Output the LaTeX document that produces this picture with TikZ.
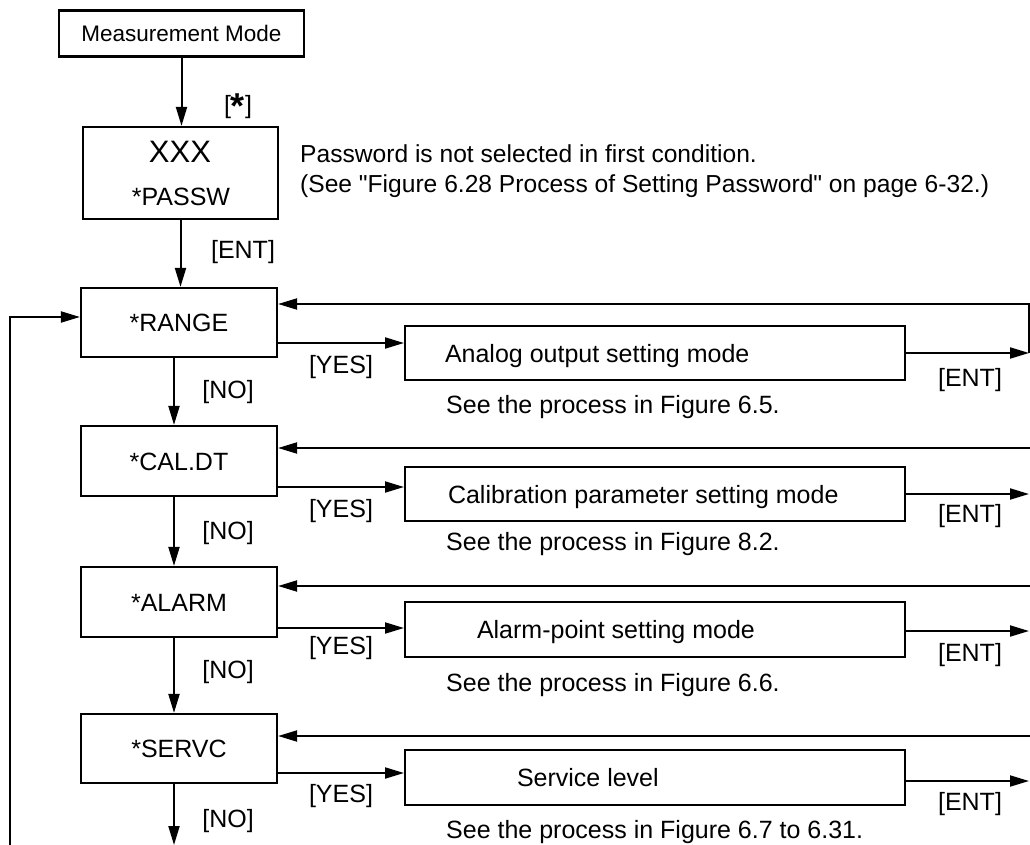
\documentclass[tikz,border=0pt]{standalone}
\usepackage{fontspec}
\setmainfont{Liberation Sans}
\usetikzlibrary{arrows.meta,calc}
\newcommand\rtxt[2]{\makebox[500pt][l]{\hspace{#1pt}#2}}
\begin{document}
\begin{tikzpicture}[x=1pt,y=-1pt,
 every node/.style={font=\fontsize{25}{29}\selectfont},
 lbox/.style={draw,line width=2.2pt,minimum width=196pt,minimum height=70pt,inner sep=0pt,text height=18pt,text depth=0pt},
 rbox/.style={draw,line width=2pt,minimum width=500pt,minimum height=54pt,inner sep=0pt,text height=18pt,text depth=0pt},
 arr/.style={line width=2pt,-{Triangle[length=19pt,width=11pt]}},
 lbl/.style={anchor=base,inner sep=0pt},
 note/.style={anchor=base west,inner sep=0pt}]
\useasboundingbox (0,0) rectangle (1030,845);

% left column boxes
\node[lbox,minimum width=245pt,minimum height=46pt,font=\fontsize{22.5}{26}\selectfont,text height=16pt] (mm) at (181.5,33.5) {Measurement Mode};
\node[lbox,minimum width=195pt,minimum height=92pt] (passw) at (180.5,173) {};
\node[lbl,font=\fontsize{31}{34}\selectfont] (xxx) at (180,163) {XXX};
\node[lbl] (pw) at (181,206) {*PASSW};
\node[lbox,minimum height=69pt] (range) at (179,322.5) {*RANGE};
\node[lbox] (caldt) at (179,461) {*CAL.DT};
\node[lbox] (alarm) at (179,602) {*ALARM};
\node[lbox,minimum height=69pt] (servc) at (179,748.5) {*SERVC};

% right boxes
\node[rbox] (r1) at (655,353) {\rtxt{40}{Analog output setting mode}};
\node[rbox] (r2) at (655,494) {\rtxt{43}{Calibration parameter setting mode}};
\node[rbox,minimum height=55pt] (r3) at (655,629.5) {\rtxt{72}{Alarm-point setting mode}};
\node[rbox,minimum height=55pt] (r4) at (655,777.5) {\rtxt{112}{Service level}};

% notes
\node[note,font=\fontsize{24.6}{28}\selectfont] (pn1) at (300,163) {Password is not selected in first condition.};
\node[note,font=\fontsize{24.6}{28}\selectfont] (pn2) at (300,193) {(See \textquotedbl Figure 6.28 Process of Setting Password\textquotedbl{} on page 6-32.)};
\node[note] (s1) at (446,413) {See the process in Figure 6.5.};
\node[note] (s2) at (446,550) {See the process in Figure 8.2.};
\node[note] (s3) at (446,691) {See the process in Figure 6.6.};
\node[note] (s4) at (446,838) {See the process in Figure 6.7 to 6.31.};

% labels
\node[lbl] (star) at (238,114) {[\raisebox{-5pt}{\fontsize{36}{36}\selectfont\bfseries *}]};
\node[lbl] (ent0) at (243,258) {[ENT]};
\node[lbl] (y1) at (341,373) {[YES]};
\node[lbl] (y2) at (341,517) {[YES]};
\node[lbl] (y3) at (341,654) {[YES]};
\node[lbl] (y4) at (341,802) {[YES]};
\node[lbl] (n1) at (228,398) {[NO]};
\node[lbl] (n2) at (228,539) {[NO]};
\node[lbl] (n3) at (228,678) {[NO]};
\node[lbl] (n4) at (228,827) {[NO]};
\node[lbl] (en1) at (970,386) {[ENT]};
\node[lbl] (en2) at (970,522) {[ENT]};
\node[lbl] (en3) at (970,661) {[ENT]};
\node[lbl] (en4) at (970,810) {[ENT]};

% free-end coordinates
\coordinate (e1) at (1029,353);
\coordinate (e2) at (1029,494);
\coordinate (e3) at (1029,631);
\coordinate (e4) at (1029,781);
\coordinate (t2) at (1031,448);
\coordinate (t3) at (1031,586);
\coordinate (t4) at (1031,736);
\coordinate (bot) at (174,845);
\coordinate (lb) at (10,846);

% vertical flow
\draw[arr] (mm.south) -- (mm.south |- passw.north);
\draw[arr] (passw.south) -- (passw.south |- range.north);
\draw[arr] ([xshift=-5pt]range.south) -- ([xshift=-5pt]caldt.north);
\draw[arr] ([xshift=-5pt]caldt.south) -- ([xshift=-5pt]alarm.north);
\draw[arr] ([xshift=-5pt]alarm.south) -- ([xshift=-5pt]servc.north);
\draw[arr] ([xshift=-5pt]servc.south) -- (bot);

% YES arrows
\draw[arr] ([yshift=-20.5pt]range.east) -- ([yshift=-20.5pt]range.east -| r1.west);
\draw[arr] ([yshift=-26pt]caldt.east) -- ([yshift=-26pt]caldt.east -| r2.west);
\draw[arr] ([yshift=-26pt]alarm.east) -- ([yshift=-26pt]alarm.east -| r3.west);
\draw[arr] ([yshift=-24.5pt]servc.east) -- ([yshift=-24.5pt]servc.east -| r4.west);

% ENT arrows
\draw[arr] (r1.east) -- (e1);
\draw[arr] (r2.east) -- (e2);
\draw[arr] (r3.east |- e3) -- (e3);
\draw[arr] (r4.east |- e4) -- (e4);

% returns
\draw[arr] (e1) |- ([yshift=18.5pt]range.east);
\draw[arr] (t2) -- (t2 -| caldt.east);
\draw[arr] (t3) -- (t3 -| alarm.east);
\draw[arr] (t4) -- (t4 -| servc.east);

% loop back
\draw[arr] (lb) |- ([yshift=5.5pt]range.west);
\end{tikzpicture}
\end{document}
